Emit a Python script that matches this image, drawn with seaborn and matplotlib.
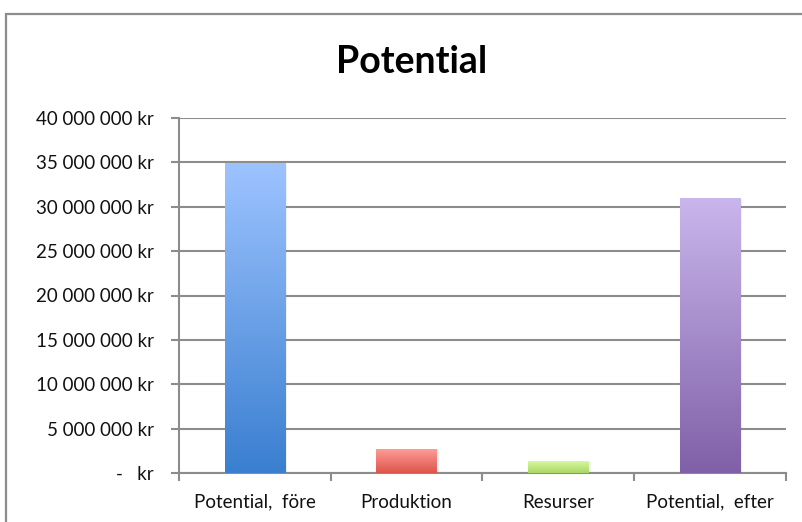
import numpy as np
import pandas as pd
import seaborn as sns
import matplotlib.pyplot as plt
from matplotlib.colors import to_rgb
from matplotlib.patches import Rectangle
from matplotlib.ticker import FuncFormatter, FixedLocator

categories = ["Potential,  före", "Produktion", "Resurser", "Potential,  efter"]
values = [34_900_000, 2_700_000, 1_300_000, 30_900_000]
top_colors = ["#9dc3ff", "#ff9c96", "#d9f79f", "#c9b6ec"]
bottom_colors = ["#3a7fd0", "#dc544c", "#a8d866", "#8060a8"]

df = pd.DataFrame({"kategori": categories, "varde": values})

sns.set_style("white")
plt.rcParams["font.family"] = ["Lato", "DejaVu Sans"]

fig = plt.figure(figsize=(8.03, 5.22), dpi=100)
ax = fig.add_axes([179 / 803, 49 / 522, 607 / 803, 355 / 522])

sns.barplot(data=df, x="kategori", y="varde", ax=ax, width=0.4,
            color="white", edgecolor="none", zorder=3)

# gradient fill for each bar
for patch, top, bot in zip(ax.patches, top_colors, bottom_colors):
    x0, w, h = patch.get_x(), patch.get_width(), patch.get_height()
    c0, c1 = np.array(to_rgb(bot)), np.array(to_rgb(top))
    t = np.linspace(0, 1, 128)[:, None, None]
    grad = c0 + (c1 - c0) * t
    # soft shadow on the right
    ax.add_patch(Rectangle((x0 + 0.012, 0), w, h * 0.995, facecolor="#000000",
                           alpha=0.06, edgecolor="none", zorder=2.5))
    ax.imshow(grad, extent=[x0, x0 + w, 0, h], origin="lower",
              aspect="auto", zorder=3, interpolation="bilinear")
    patch.set_visible(False)

ax.set_xlim(-0.5, 3.5)
ax.set_ylim(0, 40_000_000)
ax.set_yticks(np.arange(0, 40_000_001, 5_000_000))


def kr(v, pos):
    if v == 0:
        return "-   kr"
    return f"{int(v):,}".replace(",", " ") + " kr"


ax.yaxis.set_major_formatter(FuncFormatter(kr))
ax.grid(axis="y", color="#8c8c8c", linewidth=1.5, zorder=1)
ax.set_axisbelow(True)

# category boundary ticks, labels in the middle
ax.xaxis.set_major_locator(FixedLocator([-0.5, 0.5, 1.5, 2.5, 3.5]))
ax.xaxis.set_minor_locator(FixedLocator([0, 1, 2, 3]))
ax.set_xticklabels([], minor=False)
ax.set_xticklabels(categories, minor=True)
ax.tick_params(axis="x", which="major", length=6, width=1.5, color="#8c8c8c",
               direction="out", bottom=True)
ax.tick_params(axis="x", which="minor", length=0, pad=15, labelsize=13.5,
               labelcolor="#111111")
ax.tick_params(axis="y", length=6, width=1.5, color="#8c8c8c", direction="out",
               left=True, pad=12, labelsize=13.5, labelcolor="#111111")

ax.set_xlabel("")
ax.set_ylabel("")
for side in ["top", "right"]:
    ax.spines[side].set_visible(False)
for side in ["left", "bottom"]:
    ax.spines[side].set_color("#8c8c8c")
    ax.spines[side].set_linewidth(1.5)

fig.text(412 / 803, 1 - 62 / 522, "Potential", ha="center", va="center",
         fontsize=27, fontweight="bold", color="#000000")

# chart border
top_edge = 1 - 14 / 522
fig.patches.append(Rectangle((6 / 803, -0.2), 1.2, top_edge + 0.2,
                             transform=fig.transFigure, fill=False,
                             edgecolor="#8c8c8c", linewidth=1.6))

fig.savefig("out.png", dpi=100)
